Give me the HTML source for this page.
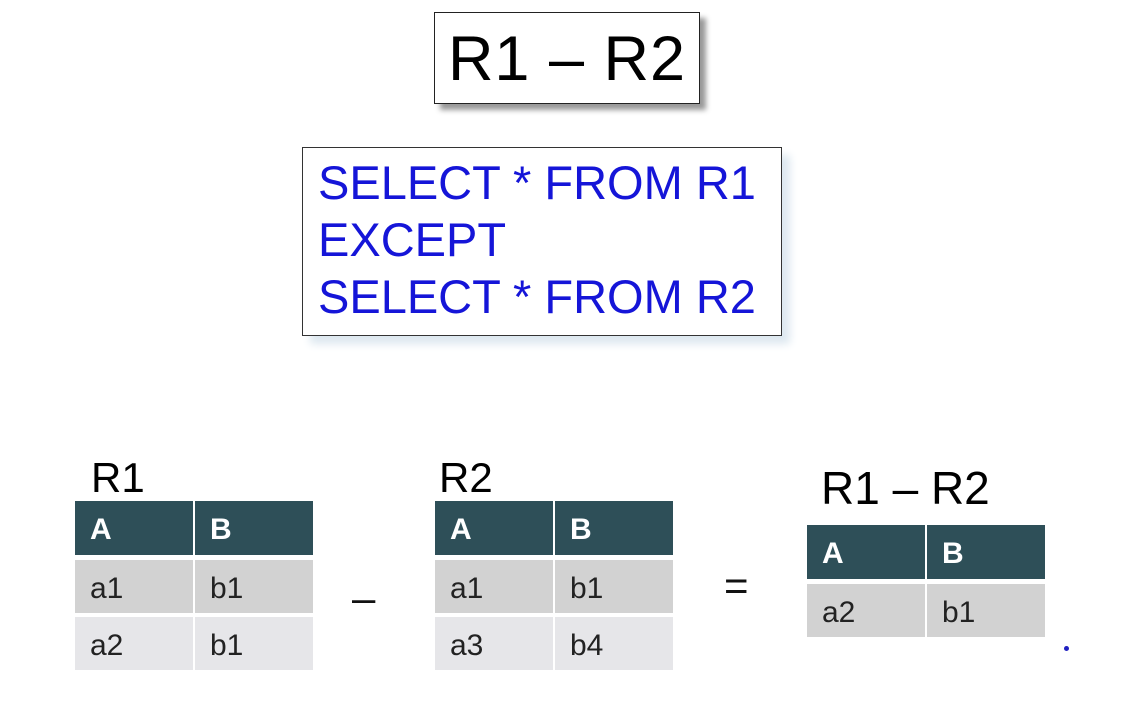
<!DOCTYPE html>
<html><head><meta charset="utf-8"><style>
body{margin:0;width:1139px;height:707px;background:#fff;position:relative;overflow:hidden;font-family:"Liberation Sans",sans-serif}
.a{position:absolute}
.title{left:434px;top:12px;width:264px;height:90px;border:1px solid #222;background:#fff;box-shadow:6px 6px 5px #999;font-size:63px;line-height:92px;text-align:center;color:#000;letter-spacing:1px}
.sql{left:302px;top:147px;width:480px;height:189px;border:1px solid #333;background:#fff;box-shadow:8px 8px 8px #dde8f0;color:#1515d8;font-size:47px;line-height:57px;padding:0 0 0 15px;box-sizing:border-box;padding-top:6px;white-space:nowrap}
.lbl{font-size:42px;color:#000;line-height:1}
.c{position:absolute;width:118px;box-sizing:border-box;padding-left:15px;font-size:30px;color:#222}
.h{background:#2e4f58;color:#fff;font-weight:bold;height:54px;line-height:58px}
.r1{background:#d2d2d2;height:53px;line-height:57px}
.r2{background:#e6e6e9;height:53px;line-height:57px}
.op{font-size:42px;color:#111}
</style></head><body>
<div class="a title">R1 – R2</div>
<div class="a sql">SELECT * FROM R1<br>EXCEPT<br>SELECT * FROM R2</div>

<div class="a lbl" style="left:91px;top:457px">R1</div>
<div class="a" style="left:75px;top:501px">
<div class="c h" style="left:0;top:0">A</div><div class="c h" style="left:120px;top:0">B</div>
<div class="c r1" style="left:0;top:59px">a1</div><div class="c r1" style="left:120px;top:59px">b1</div>
<div class="c r2" style="left:0;top:116px">a2</div><div class="c r2" style="left:120px;top:116px">b1</div>
</div>

<div class="a op" style="left:352px;top:574px">–</div>

<div class="a lbl" style="left:439px;top:457px">R2</div>
<div class="a" style="left:435px;top:501px">
<div class="c h" style="left:0;top:0">A</div><div class="c h" style="left:120px;top:0">B</div>
<div class="c r1" style="left:0;top:59px">a1</div><div class="c r1" style="left:120px;top:59px">b1</div>
<div class="c r2" style="left:0;top:116px">a3</div><div class="c r2" style="left:120px;top:116px">b4</div>
</div>

<div class="a op" style="left:724px;top:562px">=</div>

<div class="a lbl" style="left:821px;top:465px;font-size:46px">R1 – R2</div>
<div class="a" style="left:807px;top:525px">
<div class="c h" style="left:0;top:0">A</div><div class="c h" style="left:120px;top:0">B</div>
<div class="c r1" style="left:0;top:59px">a2</div><div class="c r1" style="left:120px;top:59px">b1</div>
</div>
<div class="a" style="left:1064px;top:646px;width:5px;height:5px;border-radius:50%;background:#2020c0"></div>
</body></html>
